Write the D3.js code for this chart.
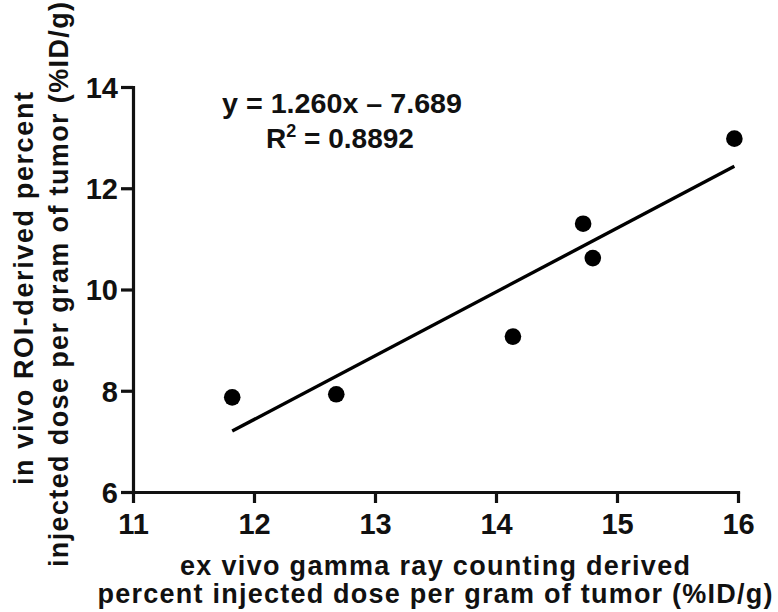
<!DOCTYPE html>
<html>
<head>
<meta charset="utf-8">
<script src="https://cdn.jsdelivr.net/npm/d3@7"></script>
<style>
  html, body { margin: 0; padding: 0; background: #fff; }
  svg { display: block; }
  text { font-family: "Liberation Sans", Arial, sans-serif; font-weight: bold; fill: #111; }
</style>
</head>
<body>
<svg id="chart" width="778" height="612"></svg>
<script>
// ex vivo gamma counting (%ID/g) vs in vivo ROI-derived (%ID/g)
const exVivo = [11.82, 12.68, 14.14, 14.72, 14.80, 15.97];
const inVivo = [7.87, 7.93, 9.07, 11.30, 10.62, 12.98];

// linear fit reported on the chart
const fitSlope = 1.260;
const fitIntercept = -7.689;
const fitR2 = 0.8892;

const xTicks = [11, 12, 13, 14, 15, 16];
const yTicks = [6, 8, 10, 12, 14];

const xTitle = ["ex vivo gamma ray counting derived", "percent injected dose per gram of tumor (%ID/g)"];
const yTitle = ["in vivo ROI-derived percent", "injected dose per gram of tumor (%ID/g)"];

const svg = d3.select("#chart");
const x = d3.scaleLinear().domain([11, 16]).range([133, 738]);
const y = d3.scaleLinear().domain([6, 14]).range([492, 87]);

const axisColor = "#111";
const tickFont = "29px";

// x axis
const gx = svg.append("g").attr("transform", `translate(0,${y(6)})`)
  .call(d3.axisBottom(x).tickValues(xTicks).tickFormat(d3.format("d")).tickSize(11).tickSizeOuter(0).tickPadding(9));
// y axis
const gy = svg.append("g").attr("transform", `translate(${x(11)},0)`)
  .call(d3.axisLeft(y).tickValues(yTicks).tickFormat(d3.format("d")).tickSize(12).tickSizeOuter(0).tickPadding(3));

[gx, gy].forEach(g => {
  g.select(".domain").attr("stroke", axisColor).attr("stroke-width", 3.2).attr("stroke-linecap", "square");
  g.selectAll(".tick line").attr("stroke", axisColor).attr("stroke-width", 3.2);
  g.selectAll(".tick text").style("font-size", tickFont).style("font-family", "'Liberation Sans', Arial, sans-serif").style("font-weight", "bold").attr("fill", "#111");
});
gx.selectAll(".tick text").attr("dy", "0.75em");
gy.selectAll(".tick text").attr("dy", "0.36em");

// regression line across the data range
const xMin = d3.min(exVivo), xMax = d3.max(exVivo);
svg.append("line")
  .attr("x1", x(xMin)).attr("y1", y(fitSlope * xMin + fitIntercept))
  .attr("x2", x(xMax)).attr("y2", y(fitSlope * xMax + fitIntercept))
  .attr("stroke", "#000").attr("stroke-width", 3.4);

// data points
svg.append("g").selectAll("circle")
  .data(exVivo.map((v, i) => [v, inVivo[i]]))
  .join("circle")
  .attr("cx", d => x(d[0])).attr("cy", d => y(d[1]))
  .attr("r", 8.3).attr("fill", "#000");

// fit equation
svg.append("text").attr("x", 342).attr("y", 113).attr("text-anchor", "middle")
  .style("font-size", "28px").attr("textLength", 240).attr("lengthAdjust", "spacingAndGlyphs")
  .text(`y = ${fitSlope.toFixed(3)}x \u2013 ${Math.abs(fitIntercept).toFixed(3)}`);
const r2 = svg.append("text").attr("x", 340).attr("y", 148).attr("text-anchor", "middle").style("font-size", "28px");
r2.append("tspan").text("R");
r2.append("tspan").attr("dy", -11).style("font-size", "18px").text("2");
r2.append("tspan").attr("dy", 11).text(` = ${fitR2.toFixed(4)}`);

// x axis title
svg.append("text").attr("x", 435).attr("y", 575).attr("text-anchor", "middle")
  .style("font-size", "27px").attr("textLength", 510).attr("lengthAdjust", "spacing").text(xTitle[0]);
svg.append("text").attr("x", 435).attr("y", 603).attr("text-anchor", "middle")
  .style("font-size", "27px").attr("textLength", 675).attr("lengthAdjust", "spacing").text(xTitle[1]);

// y axis title
svg.append("text").attr("transform", "translate(33,288.5) rotate(-90)").attr("text-anchor", "middle")
  .style("font-size", "27px").attr("textLength", 393).attr("lengthAdjust", "spacing").text(yTitle[0]);
svg.append("text").attr("transform", "translate(68,284.5) rotate(-90)").attr("text-anchor", "middle")
  .style("font-size", "27px").attr("textLength", 565).attr("lengthAdjust", "spacing").text(yTitle[1]);
</script>
</body>
</html>
